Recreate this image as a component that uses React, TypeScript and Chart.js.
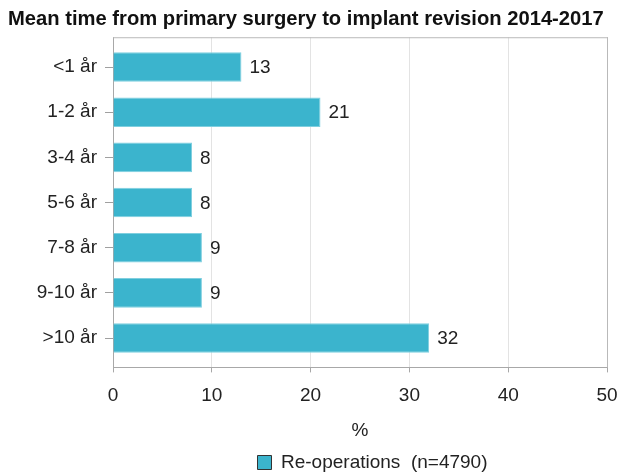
import React, { useEffect, useRef } from 'react';
import { Chart, registerables } from 'chart.js';

Chart.register(...registerables);

const chartTitle = 'Mean time from primary surgery to implant revision 2014-2017';
const categories = ['<1 år', '1-2 år', '3-4 år', '5-6 år', '7-8 år', '9-10 år', '>10 år'];
const values = [13, 21, 8, 8, 9, 9, 32];
const xTickValues = [0, 10, 20, 30, 40, 50];
const seriesLabel = 'Re-operations  (n=4790)';
const xAxisTitle = '%';

const FONT = "'Liberation Sans', Arial, Helvetica, sans-serif";
const BAR = '#3bb4cd';
const FS = 19;

const framePlugin = {
  id: 'frame',
  beforeDatasetsDraw(chart: any) {
    const { ctx, chartArea } = chart;
    ctx.save();
    ctx.strokeStyle = '#b9b9b9';
    ctx.lineWidth = 1;
    ctx.beginPath();
    ctx.moveTo(chartArea.left, chartArea.top + 0.5);
    ctx.lineTo(chartArea.right + 1, chartArea.top + 0.5);
    ctx.moveTo(chartArea.right + 0.5, chartArea.top);
    ctx.lineTo(chartArea.right + 0.5, chartArea.bottom);
    ctx.stroke();
    ctx.restore();
  },
};

const valueLabelPlugin = {
  id: 'valueLabels',
  afterDatasetsDraw(chart: any) {
    const { ctx } = chart;
    const meta = chart.getDatasetMeta(0);
    ctx.save();
    ctx.font = `${FS}px ${FONT}`;
    ctx.fillStyle = '#222';
    ctx.textAlign = 'left';
    ctx.textBaseline = 'middle';
    meta.data.forEach((bar: any, i: number) => {
      ctx.fillText(String(values[i]), bar.x + 8, bar.y + 1);
    });
    ctx.restore();
  },
};

const legendShiftPlugin = {
  id: 'legendShift',
  afterLayout(chart: any) {
    const lg = chart.legend;
    if (lg) {
      const dx = 60;
      const dy = 9;
      lg.left += dx;
      lg.right += dx;
      lg.top += dy;
      lg.bottom += dy;
    }
  },
};

export default function App() {
  const ref = useRef<HTMLCanvasElement | null>(null);

  useEffect(() => {
    if (!ref.current) return;
    const chart = new Chart(ref.current, {
      type: 'bar',
      data: {
        datasets: [
          {
            label: seriesLabel,
            data: values.map((v, i) => ({ x: v, y: i })),
            backgroundColor: BAR,
            borderColor: '#7fcfdf',
            borderWidth: 1,
            barPercentage: 0.82,
            categoryPercentage: 0.8,
          },
        ],
      },
      options: {
        indexAxis: 'y',
        animation: false,
        responsive: false,
        layout: { padding: { left: 8, right: 1, top: 0, bottom: 0 } },
        scales: {
          x: {
            type: 'linear',
            min: 0,
            max: 50,
            afterBuildTicks: (scale: any) => {
              scale.ticks = xTickValues.map((v) => ({ value: v }));
            },
            afterFit: (scale: any) => {
              scale.paddingRight = 11;
              scale.paddingLeft = 0;
            },
            grid: {
              color: '#e3e3e3',
              tickColor: '#a8a8a8',
              tickLength: 5,
              lineWidth: 1,
            },
            border: { color: '#a8a8a8' },
            ticks: {
              color: '#222',
              font: { family: FONT, size: FS },
              padding: 12,
              maxRotation: 0,
            },
            title: {
              display: true,
              text: xAxisTitle,
              color: '#222',
              font: { family: FONT, size: FS },
              padding: { top: 0, bottom: 0 },
            },
          },
          y: {
            type: 'linear',
            reverse: true,
            offset: false,
            min: -0.66,
            max: 6.65,
            afterBuildTicks: (scale: any) => {
              scale.ticks = categories.map((_, i) => ({ value: i }));
            },
            afterFit: (scale: any) => {
              scale.width = 105;
            },
            grid: {
              offset: false,
              drawOnChartArea: false,
              tickColor: '#a0a0a0',
              tickLength: 8,
            },
            border: { color: '#a8a8a8' },
            ticks: {
              color: '#222',
              font: { family: FONT, size: FS },
              padding: 8,
              callback: (v: any) => categories[v as number] ?? '',
            },
          },
        },
        plugins: {
          title: {
            display: true,
            align: 'start',
            text: chartTitle,
            color: '#111',
            font: { family: FONT, size: 20.2, weight: 'bold' },
            padding: { top: 7, bottom: 6 },
          },
          legend: {
            display: true,
            position: 'bottom',
            labels: {
              color: '#222',
              font: { family: FONT, size: FS },
              boxWidth: 14,
              boxHeight: 14,
              padding: 2,
              generateLabels: (c: any) =>
                Chart.defaults.plugins.legend.labels.generateLabels(c).map((it: any) => ({
                  ...it,
                  strokeStyle: '#333',
                  lineWidth: 1,
                })),
            },
          },
          tooltip: { enabled: false },
        },
      },
      plugins: [framePlugin, valueLabelPlugin, legendShiftPlugin],
    } as any);
    return () => chart.destroy();
  }, []);

  return (
    <div style={{ position: 'fixed', left: 0, top: 0, width: 618, height: 473, background: '#fff' }}>
      <canvas ref={ref} width={618} height={473} style={{ display: 'block' }} />
    </div>
  );
}
